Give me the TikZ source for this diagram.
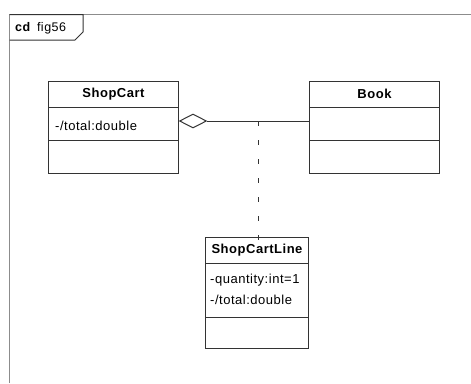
\documentclass[tikz,border=0pt]{standalone}
\usepackage{fontspec}
\setmainfont{Liberation Sans}
\newfontfamily\umlfont[LetterSpace=4]{Liberation Sans}
\usetikzlibrary{shapes.geometric}
\begin{document}
\begin{tikzpicture}[x=1pt,y=-1pt,
  line/.style={draw=black!80,line width=1pt},
  compart/.style={line,rectangle,inner sep=0pt,anchor=north west},
  headtxt/.style={font=\umlfont\fontsize{13}{15}\selectfont\bfseries,inner sep=0pt},
  attrtxt/.style={font=\umlfont\fontsize{13}{21}\selectfont,inner sep=0pt,anchor=west,align=left},
  framestyle/.style={draw=black!45,line width=1pt}]
\useasboundingbox (0,0) rectangle (471,383);
\fill[white] (0,0) rectangle (471,383);

% diagram frame with its name tab
\draw[framestyle] (9.5,383) -- (9.5,14.5) -- (471,14.5);
\draw[line] (9.5,14.5) -- (83,14.5) -- (83,32) -- (75,40) -- (9.5,40);
\node[inner sep=0pt,anchor=west,font=\umlfont\fontsize{12.5}{14}\selectfont] (title) at (15,28)
  {\textbf{cd}\hspace{0.5em}fig56};

% class ShopCart
\node[compart,minimum width=130pt,minimum height=26pt] (sch) at (48,81) {};
\node[compart,minimum width=130pt,minimum height=33pt] (sca) at (48,107) {};
\node[compart,minimum width=130pt,minimum height=33pt] (sco) at (48,140) {};
\node[headtxt] (schT) at ([yshift=0.5pt]sch.center) {ShopCart};
\node[attrtxt] (scaT) at ([xshift=7pt,yshift=-2pt]sca.west) {-/total:double};

% class Book
\node[compart,minimum width=130pt,minimum height=26pt] (bkh) at (309,81) {};
\node[compart,minimum width=130pt,minimum height=33pt] (bka) at (309,107) {};
\node[compart,minimum width=130pt,minimum height=33pt] (bko) at (309,140) {};
\node[headtxt] (bkhT) at ([yshift=0.5pt]bkh.center) {Book};

% association class ShopCartLine
\node[compart,minimum width=103pt,minimum height=26pt] (sclh) at (205,237) {};
\node[compart,minimum width=103pt,minimum height=54pt] (scla) at (205,263) {};
\node[compart,minimum width=103pt,minimum height=31pt] (sclo) at (205,317) {};
\node[headtxt] (sclhT) at ([yshift=0.5pt]sclh.center) {ShopCartLine};
\node[attrtxt,anchor=north west] (sclaT) at (210,274)
  {-quantity:int=1\\-/total:double};

% aggregation between ShopCart and Book
\node[diamond,draw=black!80,line width=1pt,fill=white,inner sep=0pt,
  minimum width=27pt,minimum height=14pt,anchor=west] (agg) at (sca.east |- 0,121) {};
\draw[line] (agg.east) -- (agg.east -| bka.west);
\coordinate (mid) at (258,121);

% link to the association class
\draw[line,dash pattern=on 5pt off 14pt] (mid) -- ([yshift=-11pt]sclh.north -| mid);
\end{tikzpicture}
\end{document}
